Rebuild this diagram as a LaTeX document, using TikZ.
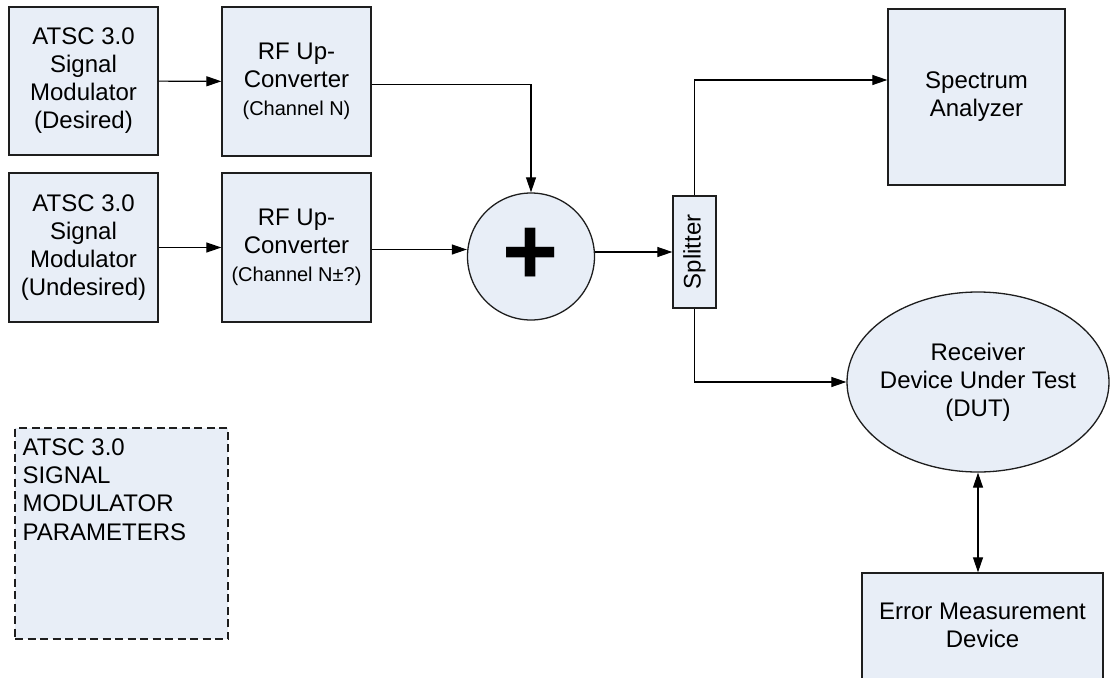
\documentclass[tikz,border=0pt]{standalone}
\usepackage{fontspec}
\setmainfont{Liberation Sans}
\usepackage{graphicx}
\usetikzlibrary{arrows.meta,shapes.geometric,calc}
\definecolor{boxfill}{RGB}{232,238,247}
\definecolor{edge}{RGB}{30,30,30}
\begin{document}
\begin{tikzpicture}[x=1pt,y=-1pt,
  box/.style={draw=edge, line width=1.3pt, fill=boxfill, inner sep=0pt, align=center,
    font=\fontsize{24}{28}\selectfont},
  txt/.style={align=center, inner sep=0pt, font=\fontsize{24}{28}\selectfont},
  conn/.style={draw=black, line width=1.1pt, -{Triangle[length=15pt,width=10pt]}},
  biconn/.style={draw=black, line width=1.1pt, {Triangle[length=15pt,width=10pt]}-{Triangle[length=15pt,width=10pt]}}]
\useasboundingbox (0,0) rectangle (1110,677);
\clip (0,0) rectangle (1110,677);

\node[box, minimum width=149pt, minimum height=148pt] (mod1) at (83.5,81)
  {ATSC 3.0\\Signal\\Modulator\\(Desired)};
\node[box, minimum width=149pt, minimum height=149pt] (up1) at (296.5,81.5)
  {RF Up-\\Converter\\{\fontsize{20}{26}\selectfont (Channel N)}};
\node[box, minimum width=149pt, minimum height=149pt] (mod2) at (83.5,247.5)
  {ATSC 3.0\\Signal\\Modulator\\(Undesired)};
\node[box, minimum width=149pt, minimum height=149pt] (up2) at (296.5,247.5)
  {RF Up-\\Converter\\{\fontsize{20}{26}\selectfont (Channel N±?)}};

\node[box, circle, minimum size=127pt] (sum) at (531,256.5)
  {\fontsize{96}{96}\selectfont\bfseries +};

\node[box, minimum width=43pt, minimum height=112pt] (spl) at (694.5,252)
  {\rotatebox{90}{Splitter}};

\node[box, minimum width=177pt, minimum height=176pt] (spec) at (976.5,97)
  {Spectrum\\Analyzer};

\node[box, ellipse, minimum width=262pt, minimum height=180pt] (dut) at (978,382) {};
\node[txt] (duttext) at (dut.center) {Receiver\\Device Under Test\\(DUT)};

\node[box, minimum width=241pt, minimum height=130pt] (err) at (982.5,638) {};
\node[txt] (errtext) at (982.5,625) {Error Measurement\\Device};

\node[box, dashed, dash pattern=on 8pt off 4.5pt, minimum width=213pt, minimum height=211pt] (par) at (121.5,533.5) {};
\node[anchor=north west, align=left, inner sep=0pt, font=\fontsize{24}{28.3}\selectfont] (partext)
  at ([xshift=8pt,yshift=-11pt]par.north west)
  {ATSC 3.0\\SIGNAL\\MODULATOR\\PARAMETERS};

\draw[conn] (mod1) -- (up1);
\draw[conn] (mod2) -- (up2);
\draw[conn] ([yshift=-3pt]up1.east) -| (sum.north);
\draw[conn] ([yshift=-2pt]up2.east) -- ([yshift=-2pt]up2.east -| sum.west);
\draw[conn] (sum.east |- spl.west) -- (spl.west);
\draw[conn] (spl.north) |- ([yshift=17pt]spec.west);
\draw[conn] (spl.south) |- (dut.west);
\draw[biconn] (err.north -| dut.south) -- (dut.south);
\end{tikzpicture}
\end{document}
